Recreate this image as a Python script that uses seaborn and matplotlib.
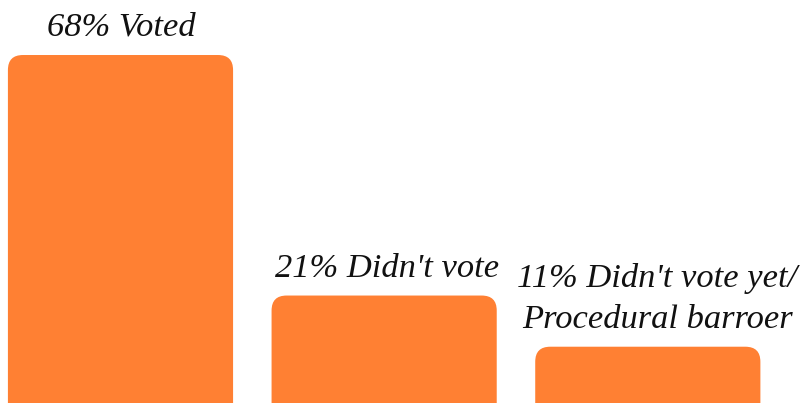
import matplotlib
matplotlib.use("Agg")
import matplotlib.pyplot as plt
import seaborn as sns
import pandas as pd
from matplotlib.patches import FancyBboxPatch

categories = ["Voted", "Didn't vote", "Didn't vote yet/\nProcedural barroer"]
values = [68, 21, 11]
labels = ["68% Voted", "21% Didn't vote", "11% Didn't vote yet/\nProcedural barroer"]
bar_color = "#FF8033"

df = pd.DataFrame({"category": categories, "value": values})

sns.set_theme(style="white")
plt.rcParams['font.family'] = ['Liberation Serif', 'DejaVu Serif']

fig = plt.figure(figsize=(8.06, 4.03), dpi=100)
ax = fig.add_axes([0, 0, 1, 1])
sns.barplot(data=df, x="category", y="value", color=bar_color, saturation=1,
            width=0.854, ax=ax)

ax.set_xlim(-0.457, 2.60)
ax.set_ylim(0, 78.75)

# replace rectangles with rounded-top boxes
px_x = 806 / (2.60 + 0.457)
px_y = 403 / 78.75
r_px = 15
rx = r_px / px_x
ry = r_px / px_y
for p in list(ax.patches):
    x, w, h = p.get_x(), p.get_width(), p.get_height()
    p.remove()
    fb = FancyBboxPatch((x, -ry * 2), w, h + ry * 2,
                        boxstyle=f"round,pad=0,rounding_size={rx}",
                        mutation_aspect=ry / rx,
                        facecolor=bar_color, edgecolor="none")
    ax.add_patch(fb)

x_shift = [0.005, 0.01, 0.037]
y_pad = [13.7, 13.7, 13.7]
for i, (lab, v) in enumerate(zip(labels, values)):
    ax.annotate(lab, xy=(i + x_shift[i], v), xytext=(0, y_pad[i]), textcoords="offset points",
                ha="center", va="baseline", fontsize=24.8, fontstyle="italic",
                color="#111111", linespacing=1.45)

ax.set_axis_off()
fig.savefig("out.png", dpi=100)
